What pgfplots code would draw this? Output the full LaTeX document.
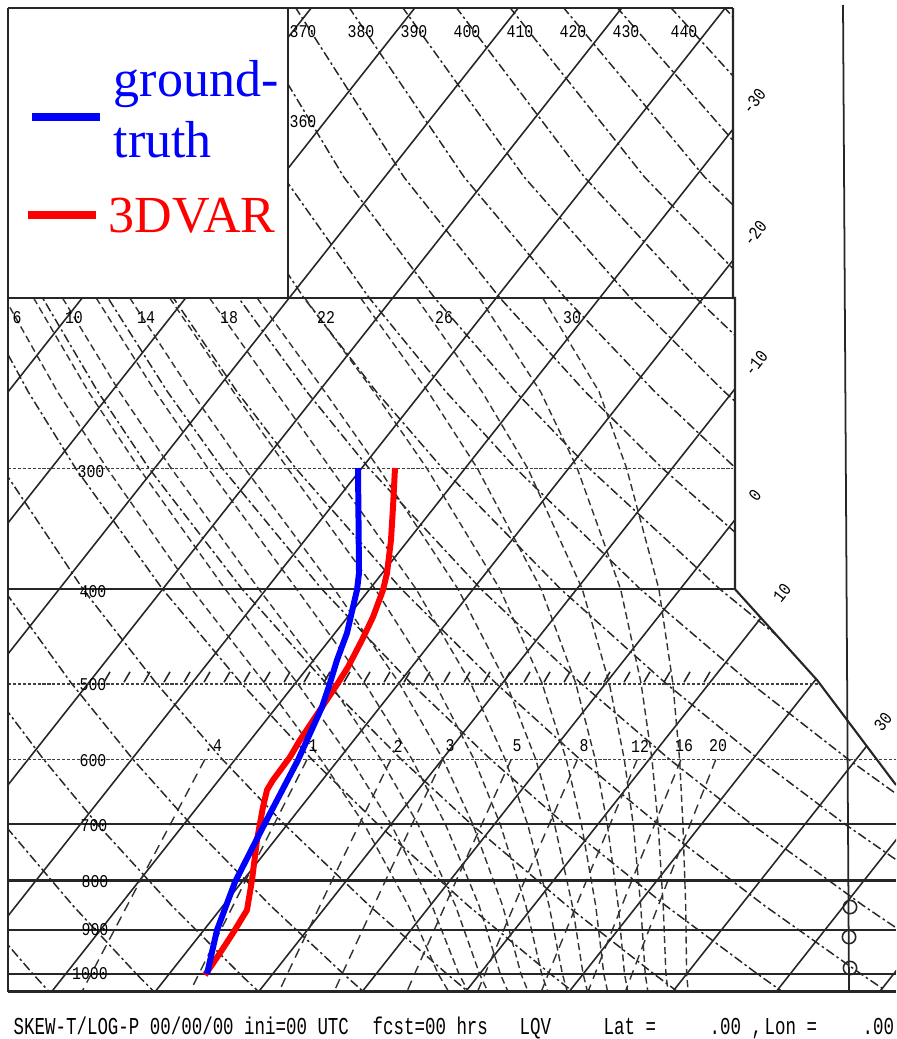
\documentclass[border=0pt]{standalone}
\usepackage{fontspec}
\usepackage{graphicx}
\usepackage{pgfplots}
\pgfplotsset{compat=1.18}
\newfontfamily\plotfont{Liberation Mono}
\newfontfamily\legfont{Liberation Serif}
\newcommand{\pf}[1]{\scalebox{0.83}[1]{\fontsize{5.1pt}{6pt}\selectfont\plotfont #1}}
\newcommand{\bt}[1]{\scalebox{0.72}[1]{\fontsize{6.9pt}{8pt}\selectfont\plotfont #1}}
\pgfplotsset{
  iso/.style={black!85, line width=0.45pt, solid, mark=none},
  dry/.style={black!85, line width=0.42pt, mark=none, dash pattern=on 2.6pt off 0.9pt on 0.7pt off 0.9pt},
  moist/.style={black!80, line width=0.4pt, mark=none, dash pattern=on 2pt off 1.1pt},
  mix/.style={black!80, line width=0.4pt, mark=none, dash pattern=on 2.8pt off 1.8pt},
  fine/.style={black!75, line width=0.4pt, mark=none, dash pattern=on 0.9pt off 0.5pt},
  bar/.style={black!85, line width=0.6pt, solid, mark=none},
  mask/.style={fill=white, draw=none, mark=none},
}
\begin{document}
\begin{tikzpicture}
\begin{axis}[scale only axis, width=89.6mm, height=103.9mm,
  xmin=0, xmax=896, ymin=0, ymax=1039, y dir=reverse,
  axis line style={draw=none}, ticks=none, clip=true]

% ---------- isotherms ----------
\addplot[iso] coordinates {(107.4,4) (4,134.9)};
\addplot[iso] coordinates {(210.9,4) (4,265.9)};
\addplot[iso] coordinates {(314.4,4) (4,397.0)};
\addplot[iso] coordinates {(417.9,4) (4,528.0)};
\addplot[iso] coordinates {(521.4,4) (4,659.0)};
\addplot[iso] coordinates {(624.9,4) (4,790.0)};
\addplot[iso] coordinates {(728.4,4) (4,921.0)};
\addplot[iso] coordinates {(831.9,4) (51.4,992)};
\addplot[iso] coordinates {(860,99.5) (154.9,992)};
\addplot[iso] coordinates {(860,230.5) (258.4,992)};
\addplot[iso] coordinates {(860,361.5) (361.9,992)};
\addplot[iso] coordinates {(860,492.5) (465.4,992)};
\addplot[iso] coordinates {(860,623.5) (568.9,992)};
\addplot[iso] coordinates {(875.4,735) (672.4,992)};
\addplot[iso] coordinates {(1559.6,0) (775.9,992)};
\addplot[iso] coordinates {(1663.1,0) (879.4,992)};

% ---------- dry adiabats ----------
\addplot[dry] coordinates {(-89.6,824.2) (-25.8,905.7) (33.0,974) (48.1,990.5)};
\addplot[dry] coordinates {(-98.7,682.9) (-45.8,759.5) (3.9,824.2) (73.0,905.7) (136.5,974) (152.8,990.5)};
\addplot[dry] coordinates {(-76.3,589.2) (-13.8,682.9) (43.7,759.5) (97.3,824.2) (171.8,905.7) (240.0,974) (257.4,990.5)};
\addplot[dry] coordinates {(-111.0,391.8) (-71.1,468.3) (3.3,589.2) (71.1,682.9) (133.1,759.5) (190.8,824.2) (270.6,905.7) (343.5,974) (362.1,990.5)};
\addplot[dry] coordinates {(-87.9,298) (-41.4,391.8) (2.3,468.3) (83.0,589.2) (156.0,682.9) (222.5,759.5) (284.2,824.2) (369.4,905.7) (447.0,974) (466.8,990.5)};
\addplot[dry] coordinates {(-77.2,177.2) (-22.6,298) (28.2,391.8) (75.6,468.3) (162.6,589.2) (240.8,682.9) (312.0,759.5) (377.7,824.2) (468.2,905.7) (550.5,974) (571.4,990.5)};
\addplot[dry] coordinates {(-79.9,6.9) (-17.0,177.2) (42.7,298) (97.9,391.8) (149.0,468.3) (242.2,589.2) (325.7,682.9) (401.4,759.5) (471.2,824.2) (567.0,905.7) (654.0,974) (676.1,990.5)};
\addplot[dry] coordinates {(-26.3,6.9) (43.1,177.2) (108.0,298) (167.5,391.8) (222.3,468.3) (321.9,589.2) (410.6,682.9) (490.8,759.5) (564.6,824.2) (665.8,905.7) (757.5,974) (780.8,990.5)};
\addplot[dry] coordinates {(27.2,6.9) (103.3,177.2) (173.4,298) (237.1,391.8) (295.7,468.3) (401.5,589.2) (495.5,682.9) (580.2,759.5) (658.1,824.2) (764.6,905.7) (861.0,974) (885.4,990.5)};
\addplot[dry] coordinates {(80.8,6.9) (163.4,177.2) (238.7,298) (306.8,391.8) (369.0,468.3) (481.1,589.2) (580.4,682.9) (669.7,759.5) (751.5,824.2) (863.4,905.7) (964.5,974)};
\addplot[dry] coordinates {(134.4,6.9) (223.6,177.2) (304.0,298) (376.4,391.8) (442.4,468.3) (560.8,589.2) (665.3,682.9) (759.1,759.5) (845.0,824.2) (962.2,905.7)};
\addplot[dry] coordinates {(188.0,6.9) (283.7,177.2) (369.3,298) (446.0,391.8) (515.7,468.3) (640.4,589.2) (750.2,682.9) (848.5,759.5) (938.4,824.2)};
\addplot[dry] coordinates {(241.5,6.9) (343.9,177.2) (434.7,298) (515.6,391.8) (589.1,468.3) (720.0,589.2) (835.1,682.9) (870,708.9)};
\addplot[dry] coordinates {(295.1,6.9) (404.0,177.2) (500.0,298) (585.3,391.8) (662.4,468.3) (799.7,589.2) (860,636.1)};
\addplot[dry] coordinates {(348.7,6.9) (464.2,177.2) (565.3,298) (654.9,391.8) (735.8,468.3) (879.3,589.2)};
\addplot[dry] coordinates {(402.2,6.9) (524.3,177.2) (630.6,298) (724.5,391.8) (809.1,468.3)};
\addplot[dry] coordinates {(455.8,6.9) (584.5,177.2) (696.0,298) (794.1,391.8)};
\addplot[dry] coordinates {(509.4,6.9) (644.6,177.2) (761.3,298)};
\addplot[dry] coordinates {(562.9,6.9) (704.8,177.2) (826.6,298)};
\addplot[dry] coordinates {(616.5,6.9) (764.9,177.2) (880,286.6)};
\addplot[dry] coordinates {(670.1,6.9) (825.1,177.2)};
\addplot[dry] coordinates {(723.6,6.9) (870,161.2)};

% ---------- moist adiabats ----------
\addplot[moist] coordinates {(4.6,298) (57.5,391.8) (107.0,468.3) (191.6,589.2) (264.5,682.9) (321.0,759.5) (364.1,824.2) (408.4,905.7) (438.2,974) (448.0,990.5)};
\addplot[moist] coordinates {(33.6,298) (88.5,391.8) (139.1,468.3) (225.3,589.2) (297.2,682.9) (351.0,759.5) (391.0,824.2) (432.0,905.7) (458.9,974) (467.7,990.5)};
\addplot[moist] coordinates {(62.5,298) (119.5,391.8) (171.2,468.3) (258.9,589.2) (329.8,682.9) (381.0,759.5) (417.9,824.2) (455.5,905.7) (479.6,974) (487.3,990.5)};
\addplot[moist] coordinates {(96.2,298) (155.4,391.8) (208.0,468.3) (296.7,589.2) (364.5,682.9) (412.1,759.5) (445.4,824.2) (479.1,905.7) (500.3,974) (507.5,990.5)};
\addplot[moist] coordinates {(129.8,298) (191.2,391.8) (244.7,468.3) (334.4,589.2) (399.1,682.9) (443.1,759.5) (472.8,824.2) (502.6,905.7) (521.0,974) (527.7,990.5)};
\addplot[moist] coordinates {(169.7,298) (233.5,391.8) (287.6,468.3) (375.3,589.2) (434.8,682.9) (474.2,759.5) (500.2,824.2) (525.9,905.7) (541.7,974) (547.4,990.5)};
\addplot[moist] coordinates {(209.5,298) (275.8,391.8) (330.5,468.3) (416.2,589.2) (470.5,682.9) (505.2,759.5) (527.6,824.2) (549.1,905.7) (562.4,974) (567.0,990.5)};
\addplot[moist] coordinates {(257.1,298) (324.9,391.8) (378.7,468.3) (458.1,589.2) (506.2,682.9) (535.8,759.5) (554.5,824.2) (572.4,905.7) (583.1,974) (587.2,990.5)};
\addplot[moist] coordinates {(304.7,298) (374.0,391.8) (426.8,468.3) (500.0,589.2) (541.9,682.9) (566.3,759.5) (581.4,824.2) (595.7,905.7) (603.8,974) (607.4,990.5)};
\addplot[moist] coordinates {(360.6,298) (428.1,391.8) (477.3,468.3) (541.2,589.2) (575.6,682.9) (595.3,759.5) (607.3,824.2) (618.2,905.7) (624.5,974) (627.6,990.5)};
\addplot[moist] coordinates {(416.5,298) (482.1,391.8) (527.7,468.3) (582.3,589.2) (609.2,682.9) (624.3,759.5) (633.2,824.2) (640.7,905.7) (645.2,974) (647.7,990.5)};
\addplot[moist] coordinates {(479.7,298) (540.6,391.8) (577.2,468.3) (620.6,589.2) (641.0,682.9) (652.0,759.5) (658.1,824.2) (663.2,905.7) (665.9,974) (667.9,990.5)};
\addplot[moist] coordinates {(542.8,298) (599.1,391.8) (626.6,468.3) (658.9,589.2) (672.8,682.9) (679.6,759.5) (682.9,824.2) (685.7,905.7) (686.6,974) (688.1,990.5)};

% ---------- mixing ratio lines ----------
\addplot[mix] coordinates {(204.8,759.5) (140.5,880.3) (91.2,974) (82.6,990.5)};
\addplot[mix] coordinates {(307.0,759.5) (245.7,880.3) (198.8,974) (190.7,990.5)};
\addplot[mix] coordinates {(390.8,759.5) (332.1,880.3) (287.3,974) (279.5,990.5)};
\addplot[mix] coordinates {(442.6,759.5) (385.6,880.3) (342.1,974) (334.6,990.5)};
\addplot[mix] coordinates {(511.2,759.5) (456.3,880.3) (414.6,974) (407.4,990.5)};
\addplot[mix] coordinates {(577.4,759.5) (524.8,880.3) (484.9,974) (478.0,990.5)};
\addplot[mix] coordinates {(637.2,759.5) (586.6,880.3) (548.3,974) (541.7,990.5)};
\addplot[mix] coordinates {(681.0,759.5) (631.9,880.3) (594.9,974) (588.5,990.5)};
\addplot[mix] coordinates {(715.8,759.5) (668.0,880.3) (632.0,974) (625.8,990.5)};

% ---------- masks ----------
\addplot[mask] coordinates {(0,0) (896,0) (896,8) (0,8)};
\addplot[mask] coordinates {(0,0) (288,0) (288,298) (0,298)};
\addplot[mask] coordinates {(0,0) (8,0) (8,1039) (0,1039)};
\addplot[mask] coordinates {(0,991.5) (896,991.5) (896,1039) (0,1039)};
\addplot[mask] coordinates {(733,0) (900,0) (900,785) (896,785) (817,680) (735,589.2) (735,298) (733,298)};

% ---------- isobars ----------
\addplot[fine] coordinates {(8,468.3) (733,468.3)};
\addplot[bar] coordinates {(8,589.2) (735,589.2)};
\addplot[fine] coordinates {(8,684) (819,684)};
\addplot[fine] coordinates {(8,759.5) (896,759.5)};
\addplot[bar] coordinates {(8,824.2) (896,824.2)};
\addplot[bar, line width=0.75pt] coordinates {(8,880.3) (896,880.3)};
\addplot[bar] coordinates {(8,929.8) (896,929.8)};
\addplot[bar] coordinates {(8,974) (896,974)};

% ---------- frame ----------
\addplot[bar, line width=0.7pt] coordinates {(8,8) (733,8)};
\addplot[bar] coordinates {(8,8) (8,991.5)};
\addplot[bar] coordinates {(288,8) (288,298)};
\addplot[bar] coordinates {(8,298) (735,298)};
\addplot[bar] coordinates {(733,8) (733,298) (735,298) (735,589.2) (817,680) (896,785)};
\addplot[bar, line width=0.8pt] coordinates {(8,991.5) (896,991.5)};
\addplot[bar, line width=0.5pt] coordinates {(843,5) (849,991.5)};

% ---------- hatch on 500 hPa ----------
\addplot[only marks, mark=|, mark size=1.7pt, mark options={rotate=-30, black!85, line width=0.45pt}] coordinates {
(107,677) (127,677) (147,677) (167,677) (187,677) (207,677) (227,677) (247,677) (267,677) (287,677)
(307,677) (327,677) (347,677) (367,677) (387,677) (407,677) (427,677) (447,677) (467,677) (487,677)
(507,677) (527,677) (547,677) (567,677) (587,677) (607,677) (627,677) (647,677) (667,677) (687,677) (707,677)};

% ---------- station circles ----------
\addplot[only marks, mark=o, mark size=1.9pt, mark options={black!85, line width=0.45pt}] coordinates {(850,907) (849,937) (850,968)};

% ---------- profiles ----------
\addplot[red, line width=1.7pt, line join=round, mark=none] coordinates {
(395,468) (393,507) (391,540) (387,573) (383,590) (373,617) (362,640) (348,667) (338,683)
(320,710) (300,740) (290,757) (273,780) (267,790) (263,807) (257,840) (252,880) (247,910)
(233,933) (220,953) (205,975)};
\addplot[blue, line width=1.7pt, line join=round, mark=none] coordinates {
(358,468) (358.5,520) (359,573) (357,590) (353,607) (347,633) (337,660) (330,683) (322,707)
(298,760) (263,827) (235,882) (217,930) (207,974)};

% ---------- legend ----------
\addplot[blue, line width=2pt, mark=none] coordinates {(32,117) (100,117)};
\addplot[red, line width=2pt, mark=none] coordinates {(28,215) (96,215)};
\node[anchor=base west, inner sep=0, text=blue] at (113,97) {\fontsize{14.8pt}{16pt}\selectfont\legfont ground-};
\node[anchor=base west, inner sep=0, text=blue] at (113,157) {\fontsize{14.8pt}{16pt}\selectfont\legfont truth};
\node[anchor=base west, inner sep=0, text=red] at (108,232) {\fontsize{14.8pt}{16pt}\selectfont\legfont 3DVAR};

% ---------- labels ----------
\node[inner sep=0] at (303,32) {\pf{370}};
\node[inner sep=0] at (361,32) {\pf{380}};
\node[inner sep=0] at (414,32) {\pf{390}};
\node[inner sep=0] at (467,32) {\pf{400}};
\node[inner sep=0] at (520,32) {\pf{410}};
\node[inner sep=0] at (573,32) {\pf{420}};
\node[inner sep=0] at (626,32) {\pf{430}};
\node[inner sep=0] at (684,32) {\pf{440}};
\node[inner sep=0] at (303,122) {\pf{360}};

\node[inner sep=0] at (17,318) {\pf{6}};
\node[inner sep=0] at (74,318) {\pf{10}};
\node[inner sep=0] at (146,318) {\pf{14}};
\node[inner sep=0] at (229,318) {\pf{18}};
\node[inner sep=0] at (326,318) {\pf{22}};
\node[inner sep=0] at (444,318) {\pf{26}};
\node[inner sep=0] at (572,318) {\pf{30}};

\node[inner sep=0] at (91,472) {\pf{300}};
\node[inner sep=0] at (93,592) {\pf{400}};
\node[inner sep=0] at (93,685) {\pf{500}};
\node[inner sep=0] at (93,761) {\pf{600}};
\node[inner sep=0] at (94,826) {\pf{700}};
\node[inner sep=0] at (95,882) {\pf{800}};
\node[inner sep=0] at (95,930) {\pf{900}};
\node[inner sep=0] at (90,974) {\pf{1000}};

\node[inner sep=0] at (213,746) {\pf{.4}};
\node[inner sep=0] at (313,746) {\pf{1}};
\node[inner sep=0] at (398,746) {\pf{2}};
\node[inner sep=0] at (450,746) {\pf{3}};
\node[inner sep=0] at (517,746) {\pf{5}};
\node[inner sep=0] at (584,746) {\pf{8}};
\node[inner sep=0] at (640,746) {\pf{12}};
\node[inner sep=0] at (684,746) {\pf{16}};
\node[inner sep=0] at (718,746) {\pf{20}};

\node[inner sep=0, rotate=52] at (754,101) {\pf{-30}};
\node[inner sep=0, rotate=52] at (755,233) {\pf{-20}};
\node[inner sep=0, rotate=52] at (756,363) {\pf{-10}};
\node[inner sep=0, rotate=52] at (755,495) {\pf{0}};
\node[inner sep=0, rotate=52] at (782,593) {\pf{10}};
\node[inner sep=0, rotate=52] at (883,722) {\pf{30}};

% ---------- footer ----------
\node[anchor=base west, inner sep=0] at (13,1034) {\bt{SKEW-T/LOG-P 00/00/00 ini=00 UTC}};
\node[anchor=base west, inner sep=0] at (372,1034) {\bt{fcst=00 hrs}};
\node[anchor=base west, inner sep=0] at (519,1034) {\bt{LQV}};
\node[anchor=base west, inner sep=0] at (603,1034) {\bt{Lat =}};
\node[anchor=base west, inner sep=0] at (709,1034) {\bt{.00 ,}};
\node[anchor=base west, inner sep=0] at (764,1034) {\bt{Lon =}};
\node[anchor=base west, inner sep=0] at (862,1034) {\bt{.00}};
\end{axis}
\pgfresetboundingbox
\useasboundingbox (current axis.south west) rectangle (current axis.north east);
\end{tikzpicture}
\end{document}
